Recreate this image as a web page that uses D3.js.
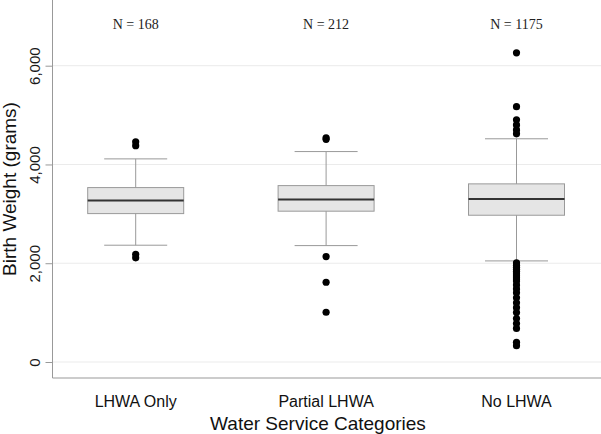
<!DOCTYPE html>
<html lang="en">
<head>
    <meta charset="UTF-8">
    <title>Birth Weight by Water Service Category</title>
    <script src="https://d3js.org/d3.v7.min.js"></script>
    <style>
        body { margin: 0; background: #fff; }
        svg { display: block; }
        .tick text { font-family: "Liberation Sans", Arial, sans-serif; }
    </style>
</head>
<body>
    <div id="chart"></div>

    <script>
        const width = 601;
        const height = 434;

        // values
        const categories = ["LHWA Only", "Partial LHWA", "No LHWA"];
        const counts = [168, 212, 1175];
        const q1 = [3005, 3054, 2972];
        const medians = [3269, 3289, 3303];
        const q3 = [3532, 3572, 3607];
        const whiskerLow = [2365, 2357, 2047];
        const whiskerHigh = [4113, 4261, 4520];
        const outliers = [
            [4460, 4380, 2180, 2110],
            [4540, 4510, 2134, 1615, 1007],
            [6261, 5170, 4904, 4800, 4700, 4620,
             2010, 1960, 1920, 1880, 1840, 1800, 1760, 1720, 1680, 1640,
             1560, 1480, 1400, 1300, 1200, 1100, 1000, 880, 780, 680, 400, 330]
        ];
        const yTicks = [0, 2000, 4000, 6000];

        const left = 52.5, bottom = 378;

        const svg = d3.select("#chart")
                      .append("svg")
                      .attr("width", width)
                      .attr("height", height);

        const x = d3.scalePoint()
                    .domain(categories)
                    .range([135.7, 516.5]);

        const y = d3.scaleLinear()
                    .domain([0, 6000])
                    .range([362, 65.7]);

        // gridlines
        svg.append("g")
           .selectAll("line")
           .data(yTicks)
           .enter()
           .append("line")
           .attr("x1", left)
           .attr("x2", width)
           .attr("y1", d => y(d))
           .attr("y2", d => y(d))
           .style("stroke", "#ebebeb")
           .style("stroke-width", 1);

        // y axis
        const yAxis = svg.append("g")
           .attr("transform", `translate(${left},0)`)
           .call(d3.axisLeft(y).tickValues(yTicks).tickFormat(d3.format(",")).tickSize(7));
        yAxis.select(".domain").remove();
        yAxis.selectAll(".tick line").style("stroke", "#999");
        yAxis.selectAll(".tick text")
             .attr("transform", "rotate(-90)")
             .attr("x", 0)
             .attr("y", -12.5)
             .attr("dy", 0)
             .attr("text-anchor", "middle")
             .style("font-size", "15px")
             .style("fill", "#1a1a1a");

        // axis lines
        svg.append("line")
           .attr("x1", left).attr("x2", left)
           .attr("y1", 0).attr("y2", bottom)
           .style("stroke", "#999");
        svg.append("line")
           .attr("x1", left).attr("x2", width)
           .attr("y1", bottom).attr("y2", bottom)
           .style("stroke", "#999");

        const boxW = 96, capW = 63;
        const idx = d3.range(categories.length);

        const g = svg.append("g");

        // whiskers
        g.selectAll(".whisker")
         .data(idx)
         .enter()
         .append("line")
         .attr("x1", i => x(categories[i]))
         .attr("x2", i => x(categories[i]))
         .attr("y1", i => y(whiskerHigh[i]))
         .attr("y2", i => y(whiskerLow[i]))
         .style("stroke", "#999");

        ["low", "high"].forEach(k => {
            const vals = k === "low" ? whiskerLow : whiskerHigh;
            g.selectAll(".cap-" + k)
             .data(idx)
             .enter()
             .append("line")
             .attr("x1", i => x(categories[i]) - capW / 2)
             .attr("x2", i => x(categories[i]) + capW / 2)
             .attr("y1", i => y(vals[i]))
             .attr("y2", i => y(vals[i]))
             .style("stroke", "#999");
        });

        // boxes
        g.selectAll(".box")
         .data(idx)
         .enter()
         .append("rect")
         .attr("x", i => x(categories[i]) - boxW / 2)
         .attr("y", i => y(q3[i]))
         .attr("width", boxW)
         .attr("height", i => y(q1[i]) - y(q3[i]))
         .style("fill", "#e5e5e5")
         .style("stroke", "#999");

        // medians
        g.selectAll(".median")
         .data(idx)
         .enter()
         .append("line")
         .attr("x1", i => x(categories[i]) - boxW / 2)
         .attr("x2", i => x(categories[i]) + boxW / 2)
         .attr("y1", i => y(medians[i]))
         .attr("y2", i => y(medians[i]))
         .style("stroke", "#333")
         .style("stroke-width", 2);

        // outliers
        const pts = [];
        outliers.forEach((arr, i) => arr.forEach(v => pts.push({ c: categories[i], v: v })));
        g.selectAll("circle")
         .data(pts)
         .enter()
         .append("circle")
         .attr("cx", d => x(d.c))
         .attr("cy", d => y(d.v))
         .attr("r", 3.6)
         .style("fill", "#000");

        // N labels
        svg.selectAll(".nlabel")
           .data(idx)
           .enter()
           .append("text")
           .attr("x", i => x(categories[i]))
           .attr("y", 29)
           .attr("text-anchor", "middle")
           .style("font-family", "'Liberation Serif', 'Times New Roman', serif")
           .style("font-size", "14px")
           .style("fill", "#222")
           .text(i => "N = " + counts[i]);

        // category labels
        svg.selectAll(".cat")
           .data(categories)
           .enter()
           .append("text")
           .attr("x", d => x(d))
           .attr("y", 407)
           .attr("text-anchor", "middle")
           .style("font-family", "'Liberation Sans', Arial, sans-serif")
           .style("font-size", "16px")
           .style("fill", "#111")
           .text(d => d);

        // axis titles
        svg.append("text")
           .attr("x", 318)
           .attr("y", 430)
           .attr("text-anchor", "middle")
           .style("font-family", "'Liberation Sans', Arial, sans-serif")
           .style("font-size", "19px")
           .style("fill", "#111")
           .text("Water Service Categories");

        svg.append("text")
           .attr("transform", "translate(15.5,189) rotate(-90)")
           .attr("text-anchor", "middle")
           .style("font-family", "'Liberation Sans', Arial, sans-serif")
           .style("font-size", "19px")
           .style("fill", "#111")
           .text("Birth Weight (grams)");
    </script>
</body>
</html>
